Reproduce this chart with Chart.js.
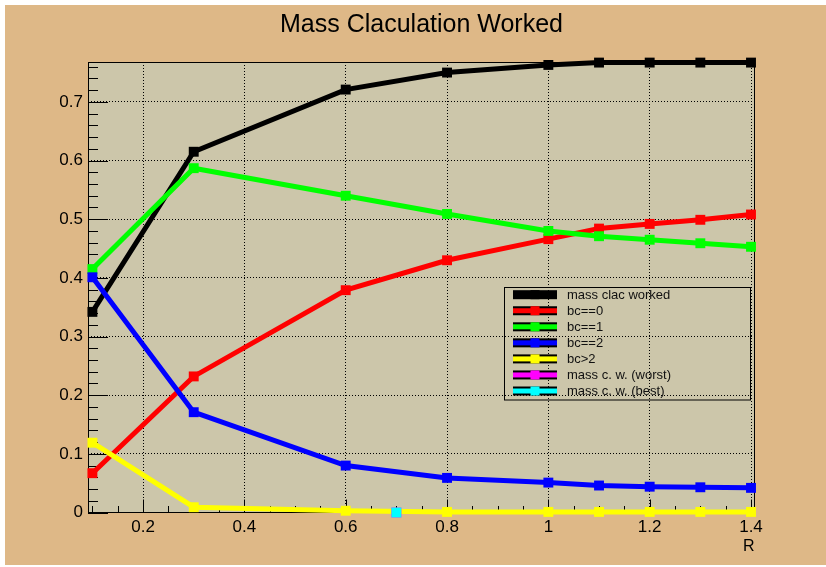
<!DOCTYPE html>
<html>
<head>
<meta charset="utf-8">
<script src="https://cdn.jsdelivr.net/npm/chart.js@4/dist/chart.umd.min.js"></script>
<style>
  html, body { margin: 0; padding: 0; background: #ffffff; overflow: hidden; }
  canvas { display: block; }
</style>
</head>
<body>
<canvas id="c" width="826" height="567"></canvas>
<script>
// Cone radius values where the fractions were evaluated
const R = [0.1, 0.3, 0.6, 0.8, 1.0, 1.1, 1.2, 1.3, 1.4];

// Fractions per category
const massCalcWorked = [0.342, 0.615, 0.721, 0.750, 0.763, 0.767, 0.767, 0.767, 0.767];
const bcEq0 = [0.067, 0.232, 0.379, 0.430, 0.466, 0.484, 0.492, 0.499, 0.508];
const bcEq1 = [0.415, 0.587, 0.540, 0.509, 0.480, 0.471, 0.465, 0.459, 0.453];
const bcEq2 = [0.401, 0.171, 0.080, 0.059, 0.051, 0.046, 0.044, 0.043, 0.042];
const bcGt2 = [0.119, 0.009, 0.003, 0.001, 0.001, 0.001, 0.001, 0.001, 0.001];

// Single-point series (worst / best case)
const worstR = [0.7];
const worstVal = [0.0];
const bestR = [0.7];
const bestVal = [0.0];

const seriesNames = ['mass clac worked', 'bc==0', 'bc==1', 'bc==2', 'bc>2', 'mass c. w. (worst)', 'mass c. w. (best)'];
const seriesColors = ['#000000', '#ff0000', '#00ff00', '#0000ff', '#ffff00', '#ff00ff', '#00ffff'];

const xTicks = [0.2, 0.4, 0.6, 0.8, 1.0, 1.2, 1.4];
const xTickLabels = ['0.2', '0.4', '0.6', '0.8', '1', '1.2', '1.4'];
const yTicks = [0, 0.1, 0.2, 0.3, 0.4, 0.5, 0.6, 0.7];
const yTickLabels = ['0', '0.1', '0.2', '0.3', '0.4', '0.5', '0.6', '0.7'];

const chartTitle = 'Mass Claculation Worked';
const xTitle = 'R';

const FONT = "'Liberation Sans', Arial, Helvetica, sans-serif";

const seriesX = [R, R, R, R, R, worstR, bestR];
const seriesY = [massCalcWorked, bcEq0, bcEq1, bcEq2, bcGt2, worstVal, bestVal];

const datasets = seriesNames.map((name, i) => ({
  label: name,
  data: seriesX[i].map((x, j) => ({ x: x, y: seriesY[i][j] })),
  borderColor: seriesColors[i],
  backgroundColor: seriesColors[i],
  borderWidth: 5,
  pointStyle: 'rect',
  pointRadius: 7,
  pointBorderWidth: 0,
  pointHoverRadius: 7,
  tension: 0,
  clip: false,
  order: seriesNames.length - i
}));

// Background, title, frame, inner tick marks and legend box
const decor = {
  id: 'decor',
  beforeDraw(chart) {
    const { ctx, chartArea: a } = chart;
    ctx.save();
    ctx.fillStyle = '#ffffff';
    ctx.fillRect(0, 0, chart.width, chart.height);
    ctx.fillStyle = '#DEB887';
    ctx.fillRect(5, 5, chart.width - 5, chart.height - 7);
    ctx.fillStyle = '#CCC6AA';
    ctx.fillRect(a.left, a.top, a.right - a.left, a.bottom - a.top);
    ctx.fillStyle = '#000000';
    ctx.font = '25px ' + FONT;
    ctx.textAlign = 'center';
    ctx.textBaseline = 'alphabetic';
    ctx.fillText(chartTitle, 421.5, 32);
    ctx.restore();
  },
  beforeDatasetsDraw(chart) {
    const { ctx, chartArea: a, scales: { x, y } } = chart;
    ctx.save();
    ctx.strokeStyle = '#000000';
    ctx.lineWidth = 1;
    ctx.strokeRect(Math.round(a.left) + 0.5, Math.round(a.top) + 0.5,
                   Math.round(a.right - a.left) - 1, Math.round(a.bottom - a.top) - 1);
    ctx.beginPath();
    // y axis: majors every 0.1, minors every 0.02
    for (let i = 0; i <= 38; i++) {
      const v = i * 0.02;
      const major = i % 5 === 0;
      const py = Math.round(y.getPixelForValue(v)) + 0.5;
      ctx.moveTo(a.left, py);
      ctx.lineTo(a.left + (major ? 20 : 10), py);
    }
    // x axis: majors every 0.2, minors every 0.05
    for (let i = 0; i <= 26; i++) {
      const v = 0.1 + i * 0.05;
      const major = i % 4 === 2;
      const px = Math.round(x.getPixelForValue(v)) + 0.5;
      ctx.moveTo(px, a.bottom);
      ctx.lineTo(px, a.bottom - (major ? 13 : 6.5));
    }
    ctx.stroke();
    ctx.restore();
  },
  afterDatasetsDraw(chart) {
    const ctx = chart.ctx;
    ctx.save();
    ctx.strokeStyle = '#000000';
    ctx.lineWidth = 1;
    ctx.strokeRect(504.5, 287.5, 246, 112.5);
    ctx.font = '13px ' + FONT;
    ctx.textAlign = 'left';
    ctx.textBaseline = 'middle';
    seriesNames.forEach((name, i) => {
      const cy = 294.7 + i * 16.05;
      ctx.fillStyle = '#000000';
      ctx.fillRect(513, cy - 4.5, 44, 9);
      ctx.fillStyle = seriesColors[i];
      ctx.fillRect(513, cy - 2.5, 44, 5);
      ctx.fillRect(530.5, cy - 4.5, 9, 9);
      ctx.fillStyle = '#111111';
      ctx.fillText(name, 567, cy + 0.5);
    });
    ctx.restore();
  }
};

new Chart(document.getElementById('c'), {
  type: 'line',
  data: { datasets: datasets },
  options: {
    responsive: false,
    animation: false,
    devicePixelRatio: 1,
    events: [],
    layout: { padding: { top: 62, right: 71.5, bottom: 0, left: 0 } },
    plugins: {
      legend: { display: false },
      tooltip: { enabled: false },
      title: { display: false }
    },
    scales: {
      x: {
        type: 'linear',
        min: 0.0913,
        max: 1.4069,
        afterFit(s) { s.height = 54.5; },
        afterBuildTicks(s) { s.ticks = xTicks.map(v => ({ value: v })); },
        grid: { color: '#000000', lineWidth: 1, drawTicks: false },
        border: { display: false, dash: [1, 2] },
        ticks: {
          autoSkip: false,
          maxRotation: 0,
          padding: 5,
          color: '#000000',
          font: { family: FONT, size: 17 },
          callback: (v, i) => xTickLabels[i]
        },
        title: {
          display: true,
          text: xTitle,
          align: 'end',
          color: '#000000',
          font: { family: FONT, size: 16 },
          padding: { top: 0, bottom: 11 }
        }
      },
      y: {
        type: 'linear',
        min: 0,
        max: 0.768,
        afterFit(s) { s.width = 88; },
        afterBuildTicks(s) { s.ticks = yTicks.map(v => ({ value: v })); },
        grid: { color: '#000000', lineWidth: 1, drawTicks: false },
        border: { display: false, dash: [1, 2] },
        ticks: {
          autoSkip: false,
          padding: 5,
          color: '#000000',
          font: { family: FONT, size: 17 },
          callback: (v, i) => yTickLabels[i]
        }
      }
    }
  },
  plugins: [decor]
});
</script>
</body>
</html>
